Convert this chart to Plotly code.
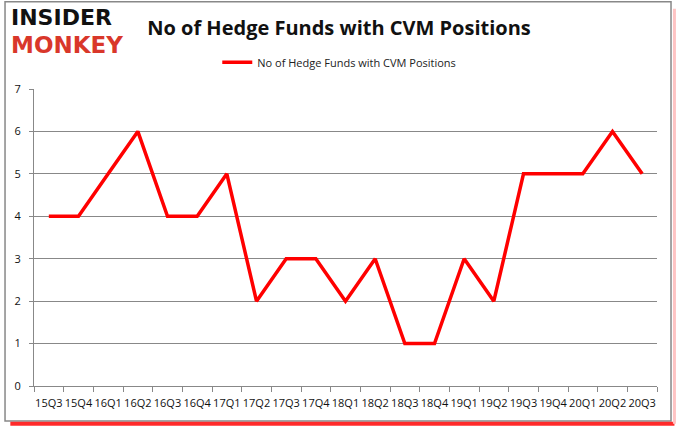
"""
    Hedge fund holdings line chart (CVM)
"""
import plotly.graph_objects as go

quarters = ['15Q3', '15Q4', '16Q1', '16Q2', '16Q3', '16Q4', '17Q1', '17Q2',
            '17Q3', '17Q4', '18Q1', '18Q2', '18Q3', '18Q4', '19Q1', '19Q2',
            '19Q3', '19Q4', '20Q1', '20Q2', '20Q3']
fund_counts = [4, 4, 5, 6, 4, 4, 5, 2, 3, 3, 2, 3, 1, 1, 3, 2, 5, 5, 5, 6, 5]
series_name = 'No of Hedge Funds with CVM Positions'
y_ticks = [0, 1, 2, 3, 4, 5, 6, 7]

font_face = 'Open Sans, Liberation Sans, sans-serif'

fig = go.Figure()
fig.add_trace(go.Scatter(x=quarters, y=fund_counts, mode='lines', name=series_name,
                         line=dict(color='#ff0000', width=3.5)))

fig.update_layout(
    width=678, height=431,
    margin=dict(l=34, r=21, t=89, b=45, autoexpand=False),
    paper_bgcolor='white', plot_bgcolor='white',
    showlegend=True,
    legend=dict(orientation='h', x=0.49, xanchor='center', y=1.09, yanchor='middle',
                font=dict(family=font_face, size=11, color='#222222'),
                itemwidth=30, bgcolor='rgba(0,0,0,0)'),
    xaxis=dict(type='category', range=[-0.5, 20.5], showgrid=False,
               showline=True, linecolor='#888888', linewidth=1,
               ticks='outside', tickson='boundaries', ticklen=5, tickcolor='#888888',
               ticklabelstandoff=7,
               tickangle=0, tickfont=dict(family=font_face, size=11, color='#111111')),
    yaxis=dict(range=[0, 7], tickvals=y_ticks, showgrid=True, gridcolor='#888888',
               gridwidth=1, zeroline=False, showline=True, linecolor='#888888',
               ticks='outside', ticklen=4, tickcolor='#888888', ticklabelstandoff=6,
               tickfont=dict(family=font_face, size=11, color='#111111')),
    title=dict(text='<b>No of Hedge Funds with CVM Positions</b>', x=0.5, xanchor='center',
               y=0.935, yanchor='middle',
               font=dict(family='Open Sans, sans-serif', size=20, color='#111111')),
)

# frame round the chart with a reddish shadow at the bottom and right
fig.add_shape(type='rect', xref='paper', yref='paper', x0=-0.0465, x1=1.0225, y0=-0.118, y1=1.294,
              line=dict(color='#888888', width=1.5))
fig.add_shape(type='line', xref='paper', yref='paper', x0=-0.038, x1=1.028, y0=-0.127, y1=-0.127,
              line=dict(color='#ff2a2a', width=4))
fig.add_shape(type='line', xref='paper', yref='paper', x0=1.028, x1=1.028, y0=-0.127, y1=1.27,
              line=dict(color='#ffc4c4', width=3))

# logo
fig.add_annotation(text='<b>INSIDER</b>', xref='paper', yref='paper', x=-0.04, y=1.29,
                   xanchor='left', yanchor='top', showarrow=False,
                   font=dict(family='DejaVu Sans', size=22, color='#111111'))
fig.add_annotation(text='<b>MONKEY</b>', xref='paper', yref='paper', x=-0.04, y=1.2,
                   xanchor='left', yanchor='top', showarrow=False,
                   font=dict(family='DejaVu Sans', size=23, color='#d9372a'))

fig.write_html("out.html", config={'displayModeBar': False},
               post_script="document.body.style.margin='0';document.body.style.overflow='hidden';")
